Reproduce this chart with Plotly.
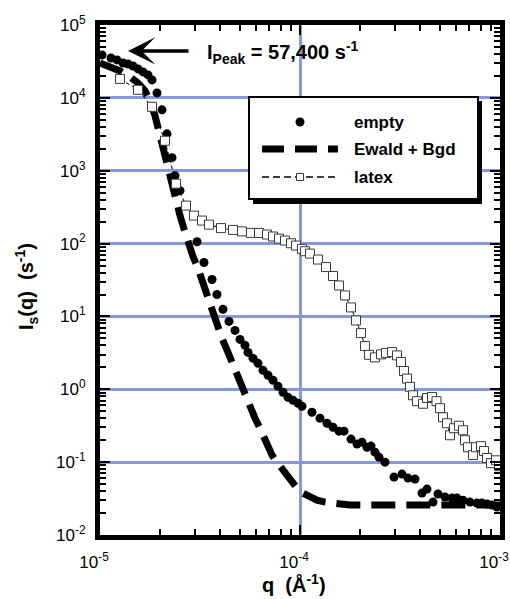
import plotly.graph_objects as go

# ---------------- data ----------------
empty_q = [1.023e-5, 1.135e-5, 1.216e-5, 1.303e-5, 1.380e-5, 1.462e-5, 1.549e-5, 1.641e-5,
           1.738e-5, 1.820e-5, 1.928e-5, 2.042e-5, 2.163e-5, 2.291e-5, 2.371e-5, 2.512e-5,
           3.055e-5, 3.311e-5, 3.631e-5, 3.846e-5, 4.121e-5, 4.416e-5, 4.732e-5, 5.012e-5,
           5.309e-5, 5.495e-5, 5.821e-5, 6.166e-5, 6.531e-5, 6.918e-5, 7.328e-5, 7.762e-5,
           8.222e-5, 8.710e-5, 9.226e-5, 9.772e-5, 1.023e-4, 1.148e-4, 1.259e-4, 1.365e-4,
           1.462e-4, 1.567e-4, 1.660e-4, 1.799e-4, 1.928e-4, 2.042e-4, 2.163e-4, 2.265e-4,
           2.371e-4, 2.483e-4, 2.661e-4, 2.951e-4, 3.236e-4, 3.467e-4, 3.758e-4, 4.074e-4,
           4.315e-4, 4.624e-4, 4.898e-4, 5.309e-4, 5.754e-4, 6.095e-4, 6.531e-4, 7.079e-4,
           7.674e-4, 8.128e-4, 8.610e-4, 9.120e-4, 9.661e-4]
empty_I = [38800, 35300, 33200, 30100, 29200, 27400, 24950, 22700,
           20650, 17650, 11700, 6850, 3210, 1510, 855, 532,
           106, 55, 32.1, 20.0, 12.5, 8.55, 6.43, 4.84,
           4.01, 3.21, 2.66, 2.27, 1.82, 1.56, 1.33, 1.10,
           0.910, 0.776, 0.706, 0.643, 0.585, 0.484, 0.401, 0.342,
           0.301, 0.266, 0.266, 0.207, 0.177, 0.188, 0.160, 0.166,
           0.137, 0.117, 0.100, 0.0624, 0.0686, 0.0604, 0.0585, 0.0376,
           0.0427, 0.0283, 0.0365, 0.0332, 0.0321, 0.0321, 0.0301, 0.0283,
           0.0274, 0.0274, 0.0266, 0.0258, 0.0242]

ewald_q = [1.000e-5, 1.122e-5, 1.259e-5, 1.413e-5, 1.549e-5, 1.679e-5, 1.778e-5, 1.884e-5,
           1.995e-5, 2.089e-5, 2.188e-5, 2.291e-5, 2.399e-5, 2.512e-5, 2.630e-5, 2.754e-5,
           2.917e-5, 3.090e-5, 3.273e-5, 3.467e-5, 3.631e-5, 3.802e-5, 4.074e-5, 4.365e-5,
           4.624e-5, 4.898e-5, 5.248e-5, 5.623e-5, 5.957e-5, 6.310e-5, 6.761e-5, 7.244e-5,
           7.674e-5, 8.222e-5, 8.913e-5, 9.661e-5, 1.035e-4, 1.122e-4, 1.216e-4, 1.334e-4,
           1.531e-4, 1.778e-4, 2.371e-4, 3.162e-4, 4.217e-4, 5.623e-4, 7.499e-4, 1.000e-3]
ewald_I = [30100, 26600, 23400, 19400, 16000, 12500, 9100, 5670,
           3010, 1770, 969, 623, 388, 242, 160, 100,
           66.4, 45.5, 28.3, 18.2, 12.1, 8.28, 5.00, 3.21,
           2.13, 1.42, 0.968, 0.604, 0.401, 0.292, 0.182, 0.125,
           0.100, 0.0776, 0.0566, 0.0441, 0.0376, 0.0332, 0.0301, 0.0283,
           0.0266, 0.0258, 0.0258, 0.0258, 0.0258, 0.0258, 0.0258, 0.0258]

latex_q = [1.259e-5, 1.549e-5, 1.820e-5, 2.113e-5, 2.399e-5, 2.692e-5, 2.951e-5, 3.236e-5,
           3.508e-5, 4.027e-5, 4.624e-5, 5.129e-5, 5.689e-5, 6.237e-5, 6.839e-5, 7.328e-5,
           7.852e-5, 8.414e-5, 9.016e-5, 9.550e-5, 1.023e-4, 1.059e-4, 1.122e-4, 1.230e-4,
           1.349e-4, 1.462e-4, 1.567e-4, 1.679e-4, 1.799e-4, 1.905e-4, 2.018e-4, 2.113e-4,
           2.213e-4, 2.371e-4, 2.541e-4, 2.692e-4, 2.884e-4, 3.055e-4, 3.199e-4, 3.311e-4,
           3.428e-4, 3.548e-4, 3.673e-4, 3.846e-4, 4.121e-4, 4.315e-4, 4.571e-4, 4.814e-4,
           5.012e-4, 5.188e-4, 5.433e-4, 5.623e-4, 5.888e-4, 6.237e-4, 6.531e-4, 6.683e-4,
           6.918e-4, 7.328e-4, 7.586e-4, 8.035e-4, 8.318e-4, 8.610e-4, 9.016e-4, 9.550e-4,
           9.886e-4]
latex_I = [18200, 12900, 7530, 2580, 664, 332, 242, 207,
           182, 163, 154, 147, 140, 140, 133, 125,
           117, 110, 101, 93.9, 84.6, 78.5, 72.9, 60.4,
           47.6, 35.9, 26.6, 19.4, 13.3, 8.81, 5.90, 3.92,
           2.97, 2.74, 3.01, 3.16, 3.24, 2.92, 2.37, 1.78,
           1.40, 1.08, 0.828, 0.686, 0.633, 0.760, 0.785, 0.686,
           0.550, 0.413, 0.342, 0.234, 0.292, 0.316, 0.274, 0.200,
           0.160, 0.125, 0.160, 0.166, 0.142, 0.114, 0.0968, 0.106,
           0.0881]

x_tickvals = [1e-5, 1e-4, 1e-3]
x_ticktext = ["10<sup>-5</sup>", "10<sup>-4</sup>", "10<sup>-3</sup>"]
y_tickvals = [1e-2, 1e-1, 1e0, 1e1, 1e2, 1e3, 1e4, 1e5]
y_ticktext = ["10<sup>-2</sup>", "10<sup>-1</sup>", "10<sup>0</sup>", "10<sup>1</sup>",
              "10<sup>2</sup>", "10<sup>3</sup>", "10<sup>4</sup>", "10<sup>5</sup>"]

legend_names = ["empty", "Ewald + Bgd", "latex"]
peak_label = "I<sub>Peak</sub> = 57,400 s<sup>-1</sup>"
x_title = "q  (Å<sup>-1</sup>)"
y_title = "I<sub>s</sub>(q)  (s<sup>-1</sup>)"

# ---------------- layout geometry ----------------
W, H = 510, 599
ML, MR, MT, MB = 100, 10, 25, 64
PW, PH = W - ML - MR, H - MT - MB
FONT = "Liberation Sans, Arial, Helvetica, sans-serif"
GRID = "#8896dc"


def px(x):
    return (x - ML) / PW


def py(y):
    return (H - MB - y) / PH


fig = go.Figure()
fig.add_trace(go.Scatter(x=ewald_q, y=ewald_I, mode="lines", name=legend_names[1],
                         line=dict(color="black", width=7, dash="24px,11px")))
fig.add_trace(go.Scatter(x=empty_q, y=empty_I, mode="markers", name=legend_names[0],
                         marker=dict(symbol="circle", size=9, color="black")))
fig.add_trace(go.Scatter(x=latex_q, y=latex_I, mode="lines+markers", name=legend_names[2],
                         line=dict(color="black", width=1, dash="4px,3px"),
                         marker=dict(symbol="square", size=9, color="white",
                                     line=dict(color="#3a3a3a", width=1))))

minor_x = [m * 10.0 ** e for e in range(-5, -3) for m in range(2, 10)]
minor_y = [m * 10.0 ** e for e in range(-2, 5) for m in range(2, 10)]

axis_common = dict(showline=True, linewidth=5, linecolor="black", mirror="ticks",
                   ticks="inside", ticklen=10, tickwidth=1.5, tickcolor="black",
                   showgrid=True, gridcolor=GRID, gridwidth=2.5, zeroline=False,
                   automargin=False,
                   tickfont=dict(family=FONT, size=17, color="black"))

fig.update_xaxes(type="log", range=[-5, -3], tickmode="array", tickvals=x_tickvals,
                 ticktext=x_ticktext, ticklabelstandoff=8, ticklabelshift=-6,
                 minor=dict(tickmode="array", tickvals=minor_x, ticks="inside",
                            ticklen=6, tickwidth=1.5, tickcolor="black", showgrid=False),
                 **axis_common)
fig.update_yaxes(type="log", range=[-2, 5], tickmode="array", tickvals=y_tickvals,
                 ticktext=y_ticktext, ticklabelstandoff=6,
                 minor=dict(tickmode="array", tickvals=minor_y, ticks="inside",
                            ticklen=6, tickwidth=1.5, tickcolor="black", showgrid=False),
                 **axis_common)

shapes = []
# legend box with drop shadow
shapes.append(dict(type="rect", xref="paper", yref="paper", layer="above",
                   x0=px(253), x1=px(482), y0=py(101), y1=py(204),
                   fillcolor="black", line=dict(width=0)))
shapes.append(dict(type="rect", xref="paper", yref="paper", layer="above",
                   x0=px(249), x1=px(478), y0=py(97), y1=py(199),
                   fillcolor="white", line=dict(color="black", width=2)))
# legend symbols
shapes.append(dict(type="circle", xref="paper", yref="paper", layer="above",
                   x0=px(295.5), x1=px(304.5), y0=py(117.5), y1=py(126.5),
                   fillcolor="black", line=dict(width=0)))
shapes.append(dict(type="line", xref="paper", yref="paper", layer="above",
                   x0=px(262), x1=px(338), y0=py(149), y1=py(149),
                   line=dict(color="black", width=7, dash="22px,11px")))
shapes.append(dict(type="line", xref="paper", yref="paper", layer="above",
                   x0=px(262), x1=px(338), y0=py(177), y1=py(177),
                   line=dict(color="black", width=1.5, dash="7px,4px")))
shapes.append(dict(type="rect", xref="paper", yref="paper", layer="above",
                   x0=px(296.5), x1=px(303.5), y0=py(173.5), y1=py(180.5),
                   fillcolor="white", line=dict(color="#3a3a3a", width=1)))

annotations = []
for name, yy in zip(legend_names, [122, 149, 177]):
    annotations.append(dict(text="<b>%s</b>" % name, xref="paper", yref="paper",
                            x=px(352), y=py(yy), xanchor="left", yanchor="middle",
                            showarrow=False, font=dict(family=FONT, size=17, color="black")))
# peak arrow
annotations.append(dict(text="", xref="x", yref="y", x=-4.86, y=4.644, ax=62, ay=0,
                        showarrow=True, arrowhead=3, arrowwidth=3.5, arrowsize=1.3,
                        arrowcolor="black"))
annotations.append(dict(text="<b>%s</b>" % peak_label, xref="paper", yref="paper",
                        x=px(205), y=py(52), xanchor="left", yanchor="middle",
                        showarrow=False, font=dict(family=FONT, size=20, color="black")))
# axis titles
annotations.append(dict(text="<b>%s</b>" % x_title, xref="paper", yref="paper",
                        x=px(294), y=py(583), xanchor="center", yanchor="middle",
                        showarrow=False, font=dict(family=FONT, size=20, color="black")))
annotations.append(dict(text="<b>%s</b>" % y_title, xref="paper", yref="paper",
                        x=px(26), y=py(287), xanchor="center", yanchor="middle",
                        textangle=-90, showarrow=False,
                        font=dict(family=FONT, size=20, color="black")))

fig.update_layout(width=W, height=H, margin=dict(l=ML, r=MR, t=MT, b=MB, autoexpand=False),
                  paper_bgcolor="white", plot_bgcolor="white", showlegend=False,
                  shapes=shapes, annotations=annotations,
                  font=dict(family=FONT, color="black"))

fig.write_html("out.html", config={"responsive": False, "displayModeBar": False},
               post_script="document.body.style.margin='0px';")
